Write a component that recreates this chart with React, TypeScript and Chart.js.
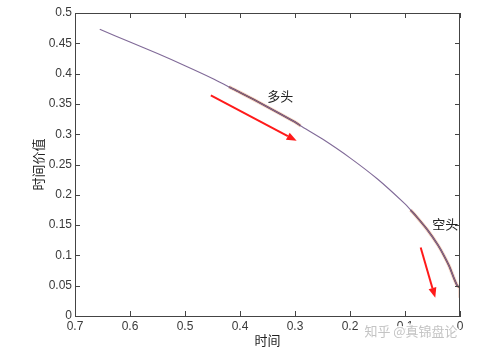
import React, { useEffect, useRef } from "react";
import { Chart, registerables } from "chart.js";

Chart.register(...registerables);

// Remaining time (x) and time value (y)
const timeX = [0.655, 0.6, 0.55, 0.5, 0.45, 0.42, 0.4, 0.35, 0.3, 0.29, 0.25, 0.2, 0.15, 0.1, 0.09, 0.08, 0.06, 0.04, 0.03, 0.02, 0.01, 0.005, 0.002, 0, 0];
const timeValue = [0.473, 0.452, 0.433, 0.413, 0.392, 0.378, 0.369, 0.345, 0.32, 0.314, 0.292, 0.261, 0.226, 0.185, 0.175, 0.165, 0.143, 0.117, 0.101, 0.083, 0.06, 0.05, 0.048, 0.047, 0.03];

// highlighted ranges on the curve
const bullRange = [0.29, 0.42];
const bearRange = [0, 0.09];

// annotation labels
const labelTexts = ["多头", "空头"];
const labelX = [0.327, 0.027];
const labelY = [0.363, 0.152];

// arrows (data coords)
const arrowFromX = [0.453, 0.0715];
const arrowFromY = [0.364, 0.113];
const arrowToX = [0.297, 0.045];
const arrowToY = [0.289, 0.03];

const xTicks = [0.7, 0.6, 0.5, 0.4, 0.3, 0.2, 0.1, 0];
const xTickLabels = ["0.7", "0.6", "0.5", "0.4", "0.3", "0.2", "0.1", "0"];
const yTicks = [0, 0.05, 0.1, 0.15, 0.2, 0.25, 0.3, 0.35, 0.4, 0.45, 0.5];
const yTickLabels = ["0", "0.05", "0.1", "0.15", "0.2", "0.25", "0.3", "0.35", "0.4", "0.45", "0.5"];

const xTitle = "时间";
const yTitle = "时间价值";
const watermark = "知乎 @真锦盘论";

const points = timeX.map((x, i) => ({ x, y: timeValue[i] }));
const inRange = (r: number[]) => points.filter((p) => p.x >= r[0] - 1e-9 && p.x <= r[1] + 1e-9);

const CJK = '"Noto Sans CJK SC", sans-serif';

const decorPlugin = {
  id: "decor",
  afterDatasetsDraw(chart: any) {
    const { ctx, chartArea, scales } = chart;
    const xs = scales.x;
    const ys = scales.y;
    ctx.save();
    // box
    ctx.strokeStyle = "#444";
    ctx.lineWidth = 1;
    ctx.strokeRect(chartArea.left + 0.5, chartArea.top + 0.5, chartArea.right - chartArea.left - 1, chartArea.bottom - chartArea.top);
    // inward ticks
    ctx.beginPath();
    xTicks.forEach((v) => {
      const px = Math.round(xs.getPixelForValue(v)) + 0.5;
      ctx.moveTo(px, chartArea.bottom);
      ctx.lineTo(px, chartArea.bottom - 5);
      ctx.moveTo(px, chartArea.top);
      ctx.lineTo(px, chartArea.top + 5);
    });
    yTicks.forEach((v) => {
      const py = Math.round(ys.getPixelForValue(v)) + 0.5;
      ctx.moveTo(chartArea.left, py);
      ctx.lineTo(chartArea.left + 5, py);
      ctx.moveTo(chartArea.right, py);
      ctx.lineTo(chartArea.right - 5, py);
    });
    ctx.stroke();

    // arrows
    ctx.strokeStyle = "#ff1a1a";
    ctx.fillStyle = "#ff1a1a";
    ctx.lineWidth = 2;
    arrowFromX.forEach((fx, i) => {
      const x1 = xs.getPixelForValue(fx);
      const y1 = ys.getPixelForValue(arrowFromY[i]);
      const x2 = xs.getPixelForValue(arrowToX[i]);
      const y2 = ys.getPixelForValue(arrowToY[i]);
      const a = Math.atan2(y2 - y1, x2 - x1);
      const hl = 10;
      const hw = 4;
      const bx = x2 - hl * Math.cos(a);
      const by = y2 - hl * Math.sin(a);
      ctx.beginPath();
      ctx.moveTo(x1, y1);
      ctx.lineTo(bx, by);
      ctx.stroke();
      ctx.beginPath();
      ctx.moveTo(x2, y2);
      ctx.lineTo(bx + hw * Math.sin(a), by - hw * Math.cos(a));
      ctx.lineTo(bx - hw * Math.sin(a), by + hw * Math.cos(a));
      ctx.closePath();
      ctx.fill();
    });

    // labels
    ctx.fillStyle = "#222";
    ctx.font = "13px " + CJK;
    ctx.textAlign = "center";
    ctx.textBaseline = "middle";
    labelTexts.forEach((t, i) => {
      ctx.fillText(t, xs.getPixelForValue(labelX[i]), ys.getPixelForValue(labelY[i]));
    });

    // watermark
    ctx.font = "13px " + CJK;
    ctx.lineWidth = 3;
    ctx.strokeStyle = "rgba(255,255,255,0.9)";
    ctx.strokeText(watermark, 411, 331);
    ctx.fillStyle = "#c4c4c4";
    ctx.fillText(watermark, 411, 331);
    ctx.restore();
  },
};

export default function App() {
  const ref = useRef<HTMLCanvasElement>(null);
  useEffect(() => {
    if (!ref.current) return;
    const line = (data: any[], color: string, width: number) => ({
      data,
      showLine: true,
      borderColor: color,
      borderWidth: width,
      pointRadius: 0,
      tension: 0.25,
    });
    const chart = new Chart(ref.current, {
      type: "scatter",
      data: {
        datasets: [
          line(points, "#806a98", 1.1),
          line(inRange(bullRange), "rgba(215,110,70,0.28)", 3.5),
          line(inRange(bearRange), "rgba(215,110,70,0.28)", 3.5),
          line(inRange(bullRange), "#4e2420", 1.7),
          line(inRange(bearRange), "#4e2420", 1.7),
        ],
      } as any,
      options: {
        responsive: false,
        animation: false,
        layout: { padding: { left: 0, top: 13, right: 28, bottom: 0 } },
        plugins: { legend: { display: false }, tooltip: { enabled: false } },
        scales: {
          x: {
            type: "linear",
            reverse: true,
            min: 0,
            max: 0.7,
            afterFit: (s: any) => {
              s.height = 43;
            },
            afterBuildTicks: (s: any) => {
              s.ticks = xTicks.map((v) => ({ value: v }));
            },
            grid: { display: false, drawTicks: false },
            border: { display: true, color: "#444" },
            ticks: {
              padding: 3,
              color: "#3a3a3a",
              font: { family: '"Liberation Sans", Arial, sans-serif', size: 12 },
              callback: (v: any) => {
                const i = xTicks.findIndex((t) => Math.abs(t - v) < 1e-9);
                return i >= 0 ? xTickLabels[i] : "";
              },
            },
            title: {
              display: true,
              text: xTitle,
              color: "#222",
              font: { family: CJK, size: 13 },
              padding: { top: 0, bottom: 11 },
            },
          },
          y: {
            type: "linear",
            min: 0,
            max: 0.5,
            afterFit: (s: any) => {
              s.width = 75;
            },
            afterBuildTicks: (s: any) => {
              s.ticks = yTicks.map((v) => ({ value: v }));
            },
            grid: { display: false, drawTicks: false },
            border: { display: true, color: "#444" },
            ticks: {
              padding: 3,
              color: "#3a3a3a",
              font: { family: '"Liberation Sans", Arial, sans-serif', size: 12 },
              callback: (v: any) => {
                const i = yTicks.findIndex((t) => Math.abs(t - v) < 1e-9);
                return i >= 0 ? yTickLabels[i] : "";
              },
            },
            title: {
              display: true,
              text: yTitle,
              color: "#222",
              font: { family: CJK, size: 13 },
              padding: { top: 30, bottom: 0 },
            },
          },
        },
      } as any,
      plugins: [decorPlugin],
    });
    return () => chart.destroy();
  }, []);
  return (
    <div style={{ position: "fixed", left: 0, top: 0, width: 488, height: 359, background: "#fff" }}>
      <canvas ref={ref} width={488} height={359} style={{ display: "block" }} />
    </div>
  );
}
